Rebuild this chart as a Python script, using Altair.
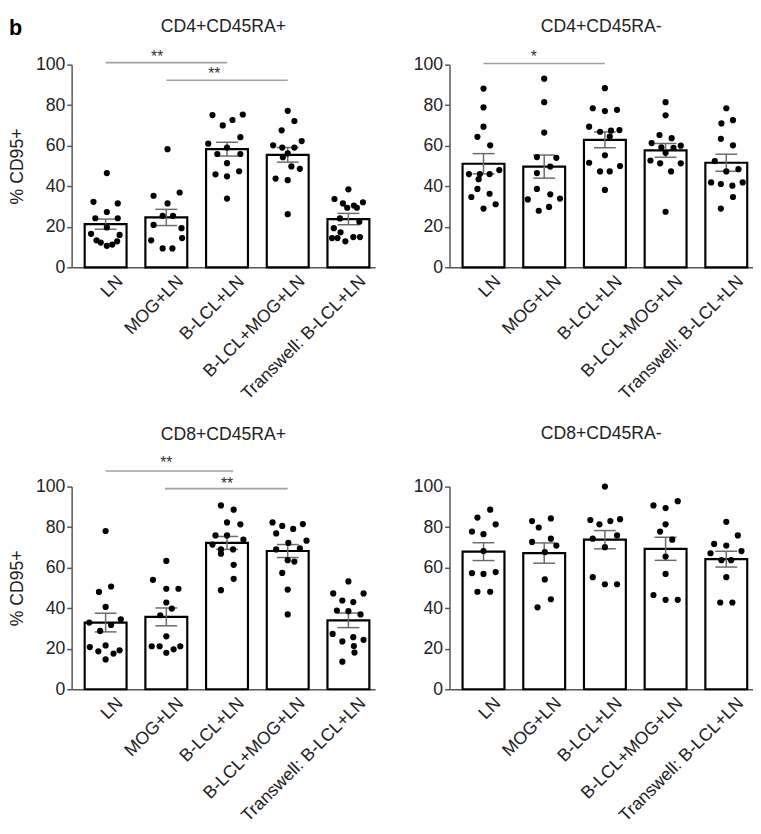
import json
import altair as alt
import pandas as pd

categories = ["LN", "MOG+LN", "B-LCL+LN", "B-LCL+MOG+LN", "Transwell: B-LCL+LN"]
panel_titles = ["CD4+CD45RA+", "CD4+CD45RA-", "CD8+CD45RA+", "CD8+CD45RA-"]
y_title = "% CD95+"
y_ticks = [0, 20, 40, 60, 80, 100]

# ---------------- CD4+CD45RA+ ----------------
p1_means = [21.3, 24.6, 58.3, 55.5, 23.8]
p1_sem = [2.5, 4.0, 3.4, 3.6, 2.8]
p1_values = [
    [46.5, 32.3, 31.5, 27.3, 24.2, 24.2, 19.7, 16.5, 16.0, 13.3, 12.2, 10.6, 11.2, 12.8],
    [58.3, 35.3, 36.9, 31.5, 25.4, 25.4, 20.9, 19.3, 13.3, 14.4, 9.3, 9.3],
    [75.1, 75.4, 70.0, 72.7, 64.2, 61.0, 59.1, 55.9, 55.9, 51.4, 45.9, 44.9, 47.4, 33.9],
    [77.2, 72.2, 67.6, 62.3, 60.2, 59.1, 59.1, 56.2, 54.3, 49.8, 48.6, 43.8, 43.0, 26.2],
    [38.5, 33.7, 32.1, 31.5, 30.5, 29.4, 29.4, 22.5, 24.1, 19.3, 17.3, 14.4, 14.4, 12.8, 14.9, 14.9],
]
p1_jitter = [
    [0.02, -0.2, 0.2, 0.02, -0.17, 0.2, 0.02, -0.24, 0.23, -0.15, -0.08, 0.02, 0.11, 0.19],
    [0.02, -0.21, 0.22, 0.02, -0.06, 0.11, -0.21, 0.25, -0.25, 0.26, -0.06, 0.1],
    [-0.24, 0.26, -0.07, 0.09, 0.22, -0.31, 0.0, -0.16, 0.22, 0.0, -0.19, 0.0, 0.2, 0.0],
    [0.0, 0.11, -0.1, 0.23, -0.24, -0.09, 0.11, 0.0, -0.08, 0.06, 0.2, -0.2, 0.0, 0.0],
    [0.0, -0.23, 0.24, -0.09, 0.09, 0.14, -0.02, 0.18, -0.14, -0.24, -0.13, -0.27, -0.18, -0.05, 0.08, 0.19],
]
# (from, to, line value, star x, star value, label)
p1_sig = [(0, 2, 101.0, 0.85, 105.8, "**"), (1, 3, 92.3, 1.79, 97.1, "**")]

# ---------------- CD4+CD45RA- ----------------
p2_means = [51.1, 49.7, 62.9, 57.7, 51.6]
p2_sem = [5.0, 5.7, 3.9, 3.4, 4.2]
p2_values = [
    [88.2, 78.9, 69.4, 64.4, 60.2, 46.0, 46.0, 46.0, 48.0, 43.5, 38.7, 34.7, 36.3, 29.0, 31.1],
    [93.1, 81.5, 66.5, 54.4, 54.0, 49.7, 46.5, 38.7, 33.5, 36.0, 33.9, 27.9, 29.8],
    [88.4, 78.5, 77.1, 77.7, 69.4, 66.9, 67.4, 67.7, 64.5, 55.3, 51.6, 50.0, 47.3, 47.3, 38.2],
    [81.5, 75.0, 65.3, 63.7, 61.3, 59.2, 58.9, 60.0, 56.5, 52.7, 51.3, 51.3, 47.3, 27.4],
    [78.5, 71.0, 72.6, 63.4, 60.2, 52.4, 47.3, 48.4, 41.9, 41.1, 40.3, 41.9, 34.7, 29.0],
]
p2_jitter = [
    [0.0, 0.0, 0.0, -0.1, 0.11, -0.24, -0.06, 0.1, 0.26, -0.08, -0.1, -0.2, 0.1, 0.0, 0.2],
    [0.0, 0.0, 0.0, -0.12, 0.2, 0.1, -0.12, -0.12, -0.27, 0.1, 0.26, -0.09, 0.08],
    [0.0, -0.2, 0.0, 0.2, -0.26, -0.08, 0.1, 0.24, 0.08, 0.0, -0.26, 0.25, -0.08, 0.08, 0.0],
    [0.0, 0.0, -0.1, 0.1, -0.23, -0.07, 0.13, 0.25, 0.0, -0.25, -0.09, 0.25, 0.09, 0.0],
    [0.0, -0.08, 0.11, -0.09, 0.11, -0.19, 0.0, 0.2, -0.25, -0.09, 0.1, 0.27, 0.11, -0.09],
]
p2_sig = [(0, 2, 100.6, 0.83, 105.8, "*")]

# ---------------- CD8+CD45RA+ ----------------
p3_means = [32.9, 35.7, 72.2, 68.2, 34.0]
p3_sem = [4.6, 4.4, 3.2, 3.2, 3.6]
p3_values = [
    [78.1, 48.0, 50.7, 40.6, 32.9, 28.8, 31.7, 34.5, 20.8, 21.6, 18.7, 17.6, 19.2, 14.7],
    [63.3, 54.0, 49.6, 49.6, 42.8, 39.8, 36.5, 26.1, 21.2, 21.2, 18.0, 19.7, 21.2],
    [90.7, 88.6, 82.3, 81.4, 75.9, 75.9, 73.8, 71.4, 69.0, 69.0, 66.9, 61.4, 54.5, 48.9],
    [82.3, 80.6, 79.1, 81.5, 76.9, 72.2, 73.3, 69.0, 69.5, 63.7, 63.0, 57.4, 49.2, 36.9],
    [53.2, 47.3, 47.3, 43.8, 43.0, 38.8, 38.5, 36.9, 27.3, 23.6, 25.7, 24.4, 21.3, 18.1, 13.6],
]
p3_jitter = [
    [0.0, -0.11, 0.09, 0.0, -0.27, -0.09, 0.09, 0.25, -0.26, 0.0, -0.12, 0.13, 0.23, 0.0],
    [0.0, -0.22, 0.0, 0.2, 0.0, 0.09, -0.1, 0.0, -0.24, -0.11, 0.0, 0.12, 0.23],
    [-0.1, 0.11, 0.0, 0.22, -0.19, 0.0, 0.27, -0.24, -0.1, 0.1, -0.1, 0.11, 0.11, -0.1],
    [-0.25, -0.09, 0.09, 0.25, -0.19, 0.01, 0.31, -0.19, 0.2, 0.0, 0.11, -0.09, 0.0, 0.0],
    [0.0, -0.25, 0.25, -0.1, 0.08, -0.19, 0.0, 0.2, -0.26, -0.1, 0.08, 0.25, 0.09, 0.1, -0.1],
]
p3_sig = [(0, 2.1, 107.7, 1.0, 113.5, "**"), (0.98, 3.0, 99.0, 2.0, 103.4, "**")]

# ---------------- CD8+CD45RA- ----------------
p4_means = [67.9, 67.2, 73.8, 69.3, 64.2]
p4_sem = [4.4, 5.0, 4.5, 5.7, 3.9]
p4_values = [
    [88.6, 84.7, 81.4, 77.8, 76.5, 68.2, 57.3, 56.9, 57.8, 48.1, 48.1],
    [83.0, 84.3, 79.8, 72.7, 74.3, 70.9, 67.7, 54.2, 44.4, 40.4],
    [100.0, 83.5, 81.4, 83.0, 83.9, 75.9, 74.3, 70.1, 55.3, 51.8, 51.8],
    [90.7, 89.4, 92.8, 81.4, 77.8, 73.8, 65.5, 56.9, 46.5, 44.1, 44.1],
    [82.6, 75.9, 71.7, 70.9, 67.1, 63.7, 63.7, 68.2, 55.3, 42.8, 42.8],
]
p4_jitter = [
    [0.11, -0.1, 0.2, -0.19, 0.0, 0.0, -0.19, 0.0, 0.2, -0.1, 0.11],
    [-0.2, 0.11, -0.09, -0.2, 0.11, 0.2, 0.01, 0.01, 0.11, -0.11],
    [0.0, -0.24, -0.09, 0.09, 0.25, 0.2, -0.2, 0.0, -0.2, 0.0, 0.2],
    [-0.2, 0.0, 0.2, 0.0, -0.09, 0.11, 0.0, 0.0, -0.2, 0.0, 0.2],
    [0.0, 0.19, -0.2, 0.0, -0.26, -0.08, 0.08, 0.25, 0.0, -0.1, 0.1],
]
p4_sig = []

FONT = "Liberation Sans"
BAR_HALF = 0.345
CAP_HALF = 0.18

x_scale = alt.Scale(domain=[-0.56, 4.44], nice=False, zero=False)
y_scale = alt.Scale(domain=[0, 100], nice=False)
label_expr = json.dumps(categories) + "[datum.value]"


def make_panel(title, means, sems, values, jitter, sig, show_ytitle, title_offset):
    x_axis = alt.Axis(values=list(range(len(categories))), labelExpr=label_expr,
                      labelAngle=-45, labelAlign="right", labelBaseline="top",
                      labelOverlap=False, ticks=False, title=None, labelPadding=5,
                      labelOffset=8)
    y_axis = alt.Axis(values=y_ticks, title=y_title if show_ytitle else None,
                      titlePadding=9)

    bar_df = pd.DataFrame({"idx": list(range(len(categories))), "mean": means, "sem": sems})
    pts = []
    for i, (vals, jit) in enumerate(zip(values, jitter)):
        for v, j in zip(vals, jit):
            pts.append({"px": i + j, "val": v})
    pts_df = pd.DataFrame(pts)

    base = alt.Chart(bar_df).transform_calculate(
        left=f"datum.idx - {BAR_HALF}", right=f"datum.idx + {BAR_HALF}",
        lo="datum.mean - datum.sem", hi="datum.mean + datum.sem",
        cl=f"datum.idx - {CAP_HALF}", cr=f"datum.idx + {CAP_HALF}",
    )
    bars = base.mark_bar(fill="white", stroke="black", strokeWidth=2.2).encode(
        x=alt.X("left:Q", scale=x_scale, axis=x_axis),
        x2="right:Q",
        y=alt.Y("mean:Q", scale=y_scale, axis=y_axis),
        y2=alt.datum(0),
    )
    err = base.mark_rule(color="#6a6a6a", strokeWidth=1.5).encode(
        x=alt.X("idx:Q", scale=x_scale, axis=x_axis),
        y=alt.Y("lo:Q", scale=y_scale, axis=y_axis),
        y2="hi:Q",
    )
    cap_hi = base.mark_rule(color="#6a6a6a", strokeWidth=1.5).encode(
        x=alt.X("cl:Q", scale=x_scale, axis=x_axis), x2="cr:Q",
        y=alt.Y("hi:Q", scale=y_scale, axis=y_axis),
    )
    cap_lo = base.mark_rule(color="#6a6a6a", strokeWidth=1.5).encode(
        x=alt.X("cl:Q", scale=x_scale, axis=x_axis), x2="cr:Q",
        y=alt.Y("lo:Q", scale=y_scale, axis=y_axis),
    )
    points = alt.Chart(pts_df).mark_circle(color="black", opacity=1, size=40).encode(
        x=alt.X("px:Q", scale=x_scale, axis=x_axis),
        y=alt.Y("val:Q", scale=y_scale, axis=y_axis),
    )
    layers = [bars, err, cap_hi, cap_lo, points]
    if sig:
        sig_df = pd.DataFrame(sig, columns=["a", "b", "lv", "sx", "sv", "lab"])
        sig_rules = alt.Chart(sig_df).mark_rule(color="#a0a0a0", strokeWidth=1.6).encode(
            x=alt.X("a:Q", scale=x_scale, axis=x_axis), x2="b:Q",
            y=alt.Y("lv:Q", scale=y_scale, axis=y_axis),
        )
        sig_text = alt.Chart(sig_df).mark_text(
            font=FONT, fontSize=16, color="#333", baseline="alphabetic", dy=9
        ).encode(
            x=alt.X("sx:Q", scale=x_scale, axis=x_axis),
            y=alt.Y("sv:Q", scale=y_scale, axis=y_axis),
            text="lab:N",
        )
        layers += [sig_rules, sig_text]
    return alt.layer(*layers).properties(
        width=310, height=207,
        title=alt.TitleParams(title, offset=title_offset),
    )


p1 = make_panel(panel_titles[0], p1_means, p1_sem, p1_values, p1_jitter, p1_sig, True, 13)
p2 = make_panel(panel_titles[1], p2_means, p2_sem, p2_values, p2_jitter, p2_sig, False, 13)
p3 = make_panel(panel_titles[2], p3_means, p3_sem, p3_values, p3_jitter, p3_sig, True, 12)
p4 = make_panel(panel_titles[3], p4_means, p4_sem, p4_values, p4_jitter, p4_sig, False, 36)

chart = alt.vconcat(
    alt.hconcat(p1, p2, spacing=38),
    alt.hconcat(p3, p4, spacing=38),
    spacing=22,
).properties(
    padding={"left": 0, "top": 0, "right": 0, "bottom": 0},
    title=alt.TitleParams("b", anchor="start", fontSize=22, fontWeight="bold",
                          color="black", offset=-22),
).configure_view(stroke=None).configure_axis(
    grid=False,
    labelFont=FONT, titleFont=FONT,
    labelFontSize=18, titleFontSize=18,
    labelColor="#222", titleColor="#222",
    titleFontWeight="normal",
    domainColor="#555", domainWidth=1.5,
    tickColor="#555", tickWidth=1.5, tickSize=5,
).configure_title(
    font=FONT, fontSize=18, fontWeight="normal", color="#222", anchor="middle",
)

chart.save("out.html", embed_options={"renderer": "svg", "actions": False})
